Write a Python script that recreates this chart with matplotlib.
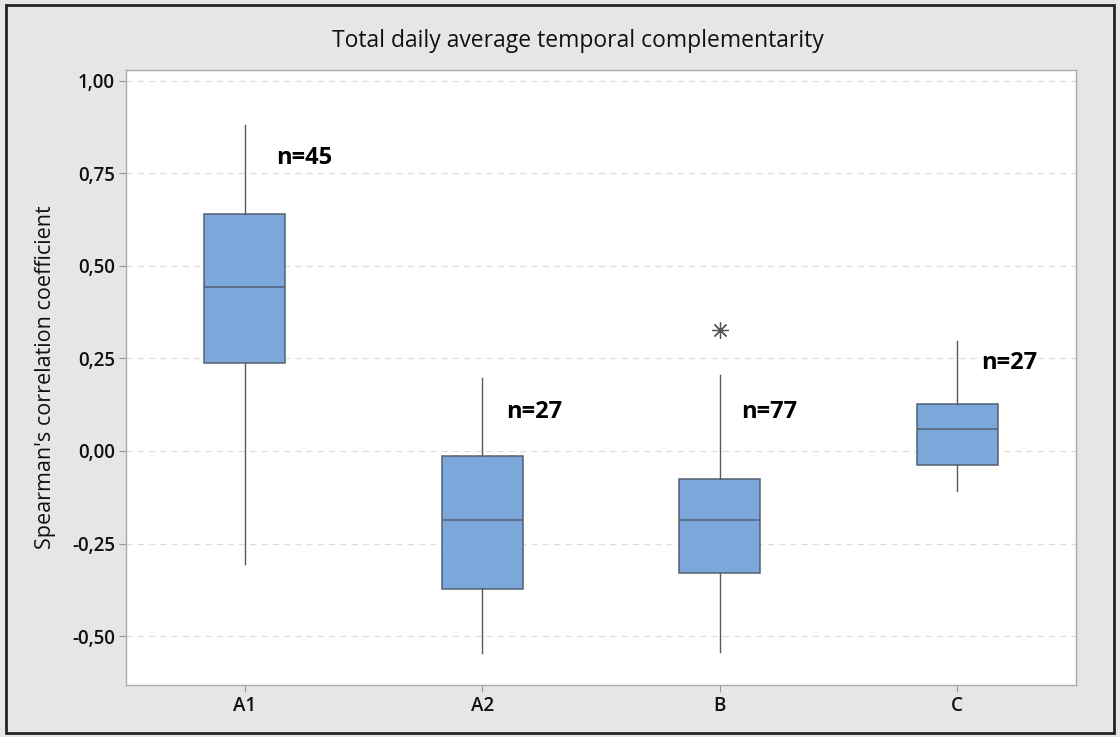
import matplotlib
matplotlib.use("Agg")
import matplotlib.pyplot as plt
from matplotlib.patches import Rectangle
from matplotlib.ticker import FixedLocator

# ─── BOX STATISTICS (Spearman's rho per group) ──────────────────────────────
groups   = ["A1", "A2", "B", "C"]
whis_lo  = [-0.305, -0.545, -0.543, -0.108]
q1       = [0.238, -0.373, -0.330, -0.038]
median   = [0.443, -0.186, -0.186, 0.059]
q3       = [0.640, -0.013, -0.076, 0.127]
whis_hi  = [0.880, 0.197, 0.205, 0.297]
outliers = [[], [], [0.327], []]
n_obs    = [45, 27, 77, 27]

# label anchors for the n= annotations (x offset from box centre, y value)
n_dx = [0.13, 0.10, 0.09, 0.10]
n_y  = [0.79, 0.105, 0.105, 0.238]

yticks = [1.00, 0.75, 0.50, 0.25, 0.00, -0.25, -0.50]

FONT = "Open Sans"
BOX_FILL = "#7ba7db"
BOX_EDGE = "#556070"
LINE_COL = "#555a60"

fig = plt.figure(figsize=(11.2, 7.37), dpi=100, facecolor="#e6e6e6")
ax = fig.add_axes([126 / 1120, 1 - 685 / 737, (1076 - 126) / 1120, (685 - 70) / 737])

stats = []
for i, g in enumerate(groups):
    stats.append({
        "label": g,
        "whislo": whis_lo[i], "q1": q1[i], "med": median[i],
        "q3": q3[i], "whishi": whis_hi[i], "fliers": outliers[i],
    })

ax.bxp(
    stats, positions=range(1, len(groups) + 1), widths=0.34,
    patch_artist=True, showcaps=False,
    boxprops=dict(facecolor=BOX_FILL, edgecolor=BOX_EDGE, linewidth=1.1),
    medianprops=dict(color=BOX_EDGE, linewidth=1.1),
    whiskerprops=dict(color=LINE_COL, linewidth=1.0),
    flierprops=dict(marker=(8, 2, 0), markersize=12, markeredgecolor="#555555",
                    markerfacecolor="none", markeredgewidth=0.9),
)

for i, n in enumerate(n_obs):
    ax.text(i + 1 + n_dx[i], n_y[i], f"n={n}", fontsize=17, fontweight="bold",
            fontname=FONT, ha="left", va="center", color="black")

ax.set_xlim(0.5, 4.5)
ax.set_ylim(-0.632, 1.029)
ax.yaxis.set_major_locator(FixedLocator(yticks))
ax.set_yticklabels([f"{v:.2f}".replace(".", ",") for v in yticks],
                   fontname=FONT, fontsize=13.5, fontweight="semibold")
ax.set_xticks(range(1, len(groups) + 1))
ax.set_xticklabels(groups, fontname=FONT, fontsize=13.5, fontweight="semibold")
ax.tick_params(axis="both", colors="#999999", labelcolor="#111111", length=5, width=0.8, pad=3)

ax.grid(axis="y", linestyle=(0, (5, 4)), color="#dddddd", linewidth=0.9)
ax.set_axisbelow(True)
for sp in ax.spines.values():
    sp.set_color("#aaaaaa")
    sp.set_linewidth(1.0)

ax.set_ylabel("Spearman's correlation coefficient", fontname=FONT, fontsize=15.5,
              color="#111111")
ax.yaxis.set_label_coords(-0.074, 0.5)

fig.text(578 / 1120, 1 - 41 / 737, "Total daily average temporal complementarity",
         fontname=FONT, fontsize=16.5, ha="center", va="center", color="#111111")

# outer frame
fig.patches.append(Rectangle((6 / 1120, 4 / 737), 1108 / 1120, 728 / 737,
                             transform=fig.transFigure, fill=False,
                             edgecolor="#222222", linewidth=2.0))

fig.savefig("out.png", dpi=100, facecolor=fig.get_facecolor())
